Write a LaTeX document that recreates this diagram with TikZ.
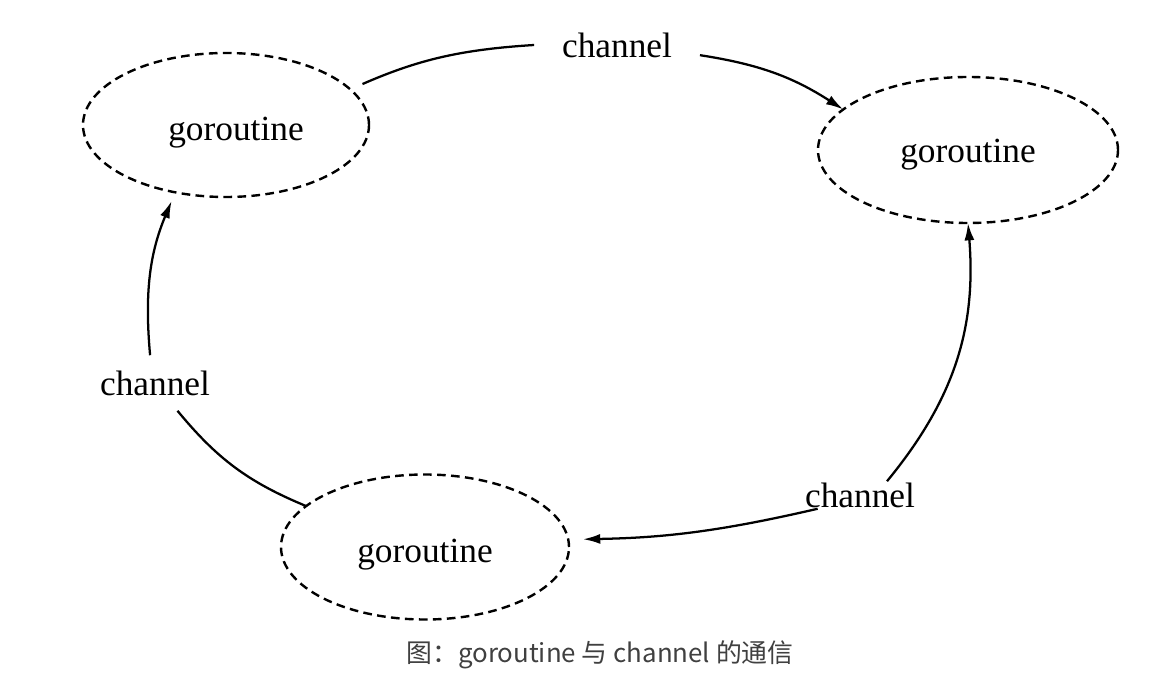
\documentclass[tikz,border=0pt]{standalone}
\usepackage{fontspec}
\setmainfont{Liberation Serif}
\newfontfamily\cjkfont{Noto Sans CJK SC}
\usepackage{tikz}
\usetikzlibrary{calc, shapes.geometric, positioning, arrows.meta}

\begin{document}
\begin{tikzpicture}[x=0.75pt, y=0.75pt, >={Latex[length=13pt,width=7.5pt]}, line width=1.7pt,
    gor/.style={ellipse, draw, dash pattern=on 6.5pt off 4pt, line width=1.8pt,
        inner sep=0pt, outer sep=0pt, text depth=6pt, font=\fontsize{26.5}{30}\selectfont},
    chan/.style={rectangle, inner xsep=21pt, inner ysep=1pt, outer sep=0pt,
        font=\fontsize{26.5}{30}\selectfont}]
    \useasboundingbox (0,0) rectangle (1160,-698);

    % 1. Ba goroutine (elip nét đứt)
    \node[gor, minimum width=214.5pt, minimum height=108pt, text height=30pt] (tl) at (226,-125) {\hspace{15pt}goroutine};
    \node[gor, minimum width=225pt, minimum height=109.5pt, text height=25.5pt] (tr) at (968,-150) {goroutine};
    \node[gor, minimum width=216pt, minimum height=108.75pt, text height=28.5pt] (bot) at (425,-547) {goroutine};

    % 2. Nhãn channel giữa các goroutine
    \node[chan] (chtop) at (617,-45) {channel};
    \node[chan] (chright) at (860,-495) {channel};
    \node[chan, inner ysep=11.5pt] (chleft) at (155,-383) {channel};

    % 3. Các mũi tên truyền dữ liệu
    % Trên: goroutine trái -> channel -> goroutine phải
    \draw[shorten <=10pt] (tl.16) to[bend left=10] (chtop.west);
    \draw[->] (chtop.-7) to[bend left=12] (tr.162);
    % Phải: goroutine dưới <- channel -> goroutine phải
    \draw[->] (chright.27) to[bend right=22] (tr.south);
    \draw[->, shorten >=11pt] (chright.198) to[bend left=6] (bot.3);
    % Trái: goroutine dưới -> channel -> goroutine trái
    \draw (bot.161) to[bend left=14] (chleft.-51);
    \draw[->, shorten >=7pt] (chleft.100) to[bend left=14] (tl.233);

    % 4. Chú thích hình
    \node[font=\cjkfont\fontsize{19.4}{23}\selectfont, text=black!75] (cap) at (600,-655) {图：goroutine 与 channel 的通信};

\end{tikzpicture}
\end{document}
